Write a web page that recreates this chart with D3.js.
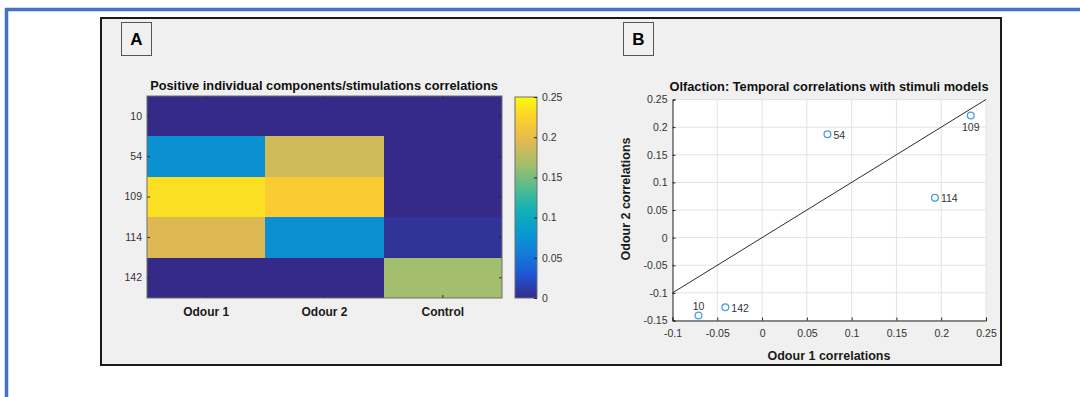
<!DOCTYPE html>
<html>
<head>
<meta charset="utf-8">
<script src="https://cdn.jsdelivr.net/npm/d3@7"></script>
<style>
  html, body { margin: 0; padding: 0; background: #ffffff; }
  svg { display: block; font-family: "Liberation Sans", Arial, Helvetica, sans-serif; }
</style>
</head>
<body>
<svg id="chart" width="1080" height="397"></svg>
<script>
// ---------------- DATA ----------------
const components = ["10", "54", "109", "114", "142"];
const stimuli = ["Odour 1", "Odour 2", "Control"];
// positive correlations (negative values shown as 0)
const odour1Heat = [0, 0.073, 0.233, 0.193, 0];
const odour2Heat = [0, 0.186, 0.220, 0.071, 0];
const controlHeat = [0, 0, 0, 0.006, 0.166];
const colorbarTicks = [0, 0.05, 0.1, 0.15, 0.2, 0.25];

// scatter: temporal correlations
const pointLabels = ["10", "54", "109", "114", "142"];
const odour1Corr = [-0.071, 0.073, 0.233, 0.193, -0.041];
const odour2Corr = [-0.141, 0.187, 0.221, 0.072, -0.126];
const xTicks = [-0.1, -0.05, 0, 0.05, 0.1, 0.15, 0.2, 0.25];
const yTicks = [-0.15, -0.1, -0.05, 0, 0.05, 0.1, 0.15, 0.2, 0.25];
const identityLine = [-0.1, 0.25];

// ---------------- STYLE ----------------
const parula = [
  [0.2081,0.1663,0.5292],[0.1253,0.3242,0.8303],[0.0723,0.4887,0.8467],
  [0.0265,0.6137,0.8135],[0.0843,0.6928,0.7062],[0.3482,0.7424,0.5473],
  [0.6473,0.7456,0.4188],[0.8824,0.7274,0.3217],[0.9880,0.8066,0.1794],
  [0.9763,0.9831,0.0538]
].map(c => d3.rgb(c[0]*255, c[1]*255, c[2]*255).formatHex());
const cMax = 0.25;
const color = d3.scaleLinear()
  .domain(parula.map((_, i) => i / (parula.length - 1) * cMax))
  .range(parula)
  .interpolate(d3.interpolateRgb)
  .clamp(true);

const svg = d3.select("#chart");
const TXT = "#333333";
const TICK = 10.5;
const fmt = d => String(+d.toFixed(2));

// outer blue page border (top & left)
svg.append("line").attr("x1", 5).attr("x2", 1080).attr("y1", 9.5).attr("y2", 9.5)
  .attr("stroke", "#4472C4").attr("stroke-width", 3.5);
svg.append("line").attr("x1", 6.5).attr("x2", 6.5).attr("y1", 8).attr("y2", 397)
  .attr("stroke", "#4472C4").attr("stroke-width", 3.5);

// figure panel
svg.append("rect").attr("x", 101).attr("y", 18).attr("width", 900).attr("height", 347)
  .attr("fill", "#F0F0F0").attr("stroke", "#1a1a1a").attr("stroke-width", 2);

// panel letters
[["A", 121.5, 22.5], ["B", 623.5, 22.5]].forEach(([t, x, y]) => {
  svg.append("rect").attr("x", x).attr("y", y).attr("width", 30).attr("height", 33)
    .attr("fill", "#F0F0F0").attr("stroke", "#555").attr("stroke-width", 1);
  svg.append("text").attr("x", x + 15).attr("y", y + 22.5).attr("text-anchor", "middle")
    .attr("font-size", 17).attr("font-weight", "bold").attr("fill", "#000").text(t);
});

// ---------------- HEATMAP ----------------
const hm = { x0: 147, x1: 502, y0: 96, y1: 298 };
const hx = d3.scaleBand().domain(stimuli).range([hm.x0, hm.x1]);
const hy = d3.scaleBand().domain(components).range([hm.y0, hm.y1]);
const heatCols = [odour1Heat, odour2Heat, controlHeat];
const cells = [];
stimuli.forEach((s, j) => components.forEach((c, i) => cells.push({ s, c, v: heatCols[j][i] })));

const gH = svg.append("g");
gH.selectAll("rect.cell").data(cells).join("rect").attr("class", "cell")
  .attr("x", d => hx(d.s)).attr("y", d => hy(d.c))
  .attr("width", hx.bandwidth()).attr("height", hy.bandwidth())
  .attr("shape-rendering", "crispEdges")
  .attr("fill", d => color(d.v));

// axes with inward ticks
const styleAxis = (g, size) => {
  g.select(".domain").remove();
  g.selectAll(".tick line").attr("stroke", "#262626");
  g.selectAll(".tick text").attr("fill", TXT).attr("font-size", size)
    .attr("font-family", "'Liberation Sans', Arial, sans-serif");
};
gH.append("g").attr("transform", `translate(${hm.x0},0)`)
  .call(d3.axisLeft(hy).tickSize(-3).tickPadding(5)).call(g => styleAxis(g, TICK));
gH.append("g").attr("transform", `translate(${hm.x1},0)`)
  .call(d3.axisRight(hy).tickSize(-3).tickFormat("")).call(g => styleAxis(g, TICK));
gH.append("g").attr("transform", `translate(0,${hm.y0})`)
  .call(d3.axisTop(hx).tickSize(-3).tickFormat("")).call(g => styleAxis(g, TICK));
const hxAxis = gH.append("g").attr("transform", `translate(0,${hm.y1})`)
  .call(d3.axisBottom(hx).tickSize(-3).tickPadding(9));
styleAxis(hxAxis, 12);
hxAxis.selectAll(".tick text").attr("font-weight", "bold").attr("fill", "#1a1a1a");

gH.append("rect").attr("x", hm.x0).attr("y", hm.y0).attr("width", hm.x1 - hm.x0).attr("height", hm.y1 - hm.y0)
  .attr("fill", "none").attr("stroke", "#6e6e6e").attr("stroke-width", 1);

svg.append("text").attr("x", (hm.x0 + hm.x1) / 2 - 0.5).attr("y", 89.5).attr("text-anchor", "middle")
  .attr("font-size", 12.8).attr("font-weight", "bold").attr("fill", "#111")
  .text("Positive individual components/stimulations correlations");

// colorbar
const cb = { x0: 515, x1: 537, y0: 97, y1: 298 };
const defs = svg.append("defs");
const grad = defs.append("linearGradient").attr("id", "parula").attr("x1", 0).attr("x2", 0).attr("y1", 1).attr("y2", 0);
grad.selectAll("stop").data(parula).join("stop")
  .attr("offset", (d, i) => i / (parula.length - 1)).attr("stop-color", d => d);
svg.append("rect").attr("x", cb.x0).attr("y", cb.y0).attr("width", cb.x1 - cb.x0).attr("height", cb.y1 - cb.y0)
  .attr("fill", "url(#parula)").attr("stroke", "#6e6e6e").attr("stroke-width", 1);
const cy = d3.scaleLinear().domain([0, cMax]).range([cb.y1, cb.y0]);
const cbAxis = svg.append("g").attr("transform", `translate(${cb.x1},0)`)
  .call(d3.axisRight(cy).tickValues(colorbarTicks).tickFormat(fmt).tickSize(-3).tickPadding(5));
styleAxis(cbAxis, TICK);

// ---------------- SCATTER ----------------
const sp = { x0: 672.5, x1: 986, y0: 99.5, y1: 320.5 };
const sx = d3.scaleLinear().domain([-0.1, 0.25]).range([sp.x0, sp.x1]);
const sy = d3.scaleLinear().domain([-0.15, 0.25]).range([sp.y1, sp.y0]);
const gS = svg.append("g");
gS.append("rect").attr("x", sp.x0).attr("y", sp.y0).attr("width", sp.x1 - sp.x0).attr("height", sp.y1 - sp.y0)
  .attr("fill", "#ffffff");
// grid
gS.selectAll("line.gx").data(xTicks).join("line").attr("class", "gx")
  .attr("x1", d => sx(d)).attr("x2", d => sx(d)).attr("y1", sp.y0).attr("y2", sp.y1)
  .attr("stroke", "#e3e3e3").attr("stroke-width", 1);
gS.selectAll("line.gy").data(yTicks).join("line").attr("class", "gy")
  .attr("y1", d => sy(d)).attr("y2", d => sy(d)).attr("x1", sp.x0).attr("x2", sp.x1)
  .attr("stroke", "#e3e3e3").attr("stroke-width", 1);

const sxAxis = gS.append("g").attr("transform", `translate(0,${sp.y1})`)
  .call(d3.axisBottom(sx).tickValues(xTicks).tickFormat(fmt).tickSize(-3).tickPadding(9));
sxAxis.select(".domain").attr("stroke", "#262626");
sxAxis.selectAll(".tick line").attr("stroke", "#262626");
sxAxis.selectAll(".tick text").attr("fill", TXT).attr("font-size", TICK);
const syAxis = gS.append("g").attr("transform", `translate(${sp.x0},0)`)
  .call(d3.axisLeft(sy).tickValues(yTicks).tickFormat(fmt).tickSize(-3).tickPadding(5));
syAxis.select(".domain").attr("stroke", "#262626");
syAxis.selectAll(".tick line").attr("stroke", "#262626");
syAxis.selectAll(".tick text").attr("fill", TXT).attr("font-size", TICK);

// identity line
gS.append("line")
  .attr("x1", sx(identityLine[0])).attr("y1", sy(identityLine[0]))
  .attr("x2", sx(identityLine[1])).attr("y2", sy(identityLine[1]))
  .attr("stroke", "#2b2b2b").attr("stroke-width", 1);

const pts = pointLabels.map((l, i) => ({ l, x: odour1Corr[i], y: odour2Corr[i] }));
gS.selectAll("circle.pt").data(pts).join("circle").attr("class", "pt")
  .attr("cx", d => sx(d.x)).attr("cy", d => sy(d.y)).attr("r", 3.4)
  .attr("fill", "none").attr("stroke", "#4a9fdc").attr("stroke-width", 1.3);

const labelPos = { "10": "above", "109": "below" };
gS.selectAll("text.pl").data(pts).join("text").attr("class", "pl")
  .attr("x", d => labelPos[d.l] ? sx(d.x) : sx(d.x) + 6)
  .attr("y", d => labelPos[d.l] === "above" ? sy(d.y) - 6 : labelPos[d.l] === "below" ? sy(d.y) + 15 : sy(d.y) + 4.5)
  .attr("text-anchor", d => labelPos[d.l] ? "middle" : "start")
  .attr("font-size", TICK).attr("fill", TXT).text(d => d.l);

svg.append("text").attr("x", 829).attr("y", 90.5).attr("text-anchor", "middle")
  .attr("font-size", 12.8).attr("font-weight", "bold").attr("fill", "#111")
  .text("Olfaction: Temporal correlations with stimuli models");
svg.append("text").attr("x", 829).attr("y", 360).attr("text-anchor", "middle")
  .attr("font-size", 12.5).attr("font-weight", "bold").attr("fill", "#1a1a1a")
  .text("Odour 1 correlations");
svg.append("text").attr("transform", "translate(630,199) rotate(-90)").attr("text-anchor", "middle")
  .attr("font-size", 12.5).attr("font-weight", "bold").attr("fill", "#1a1a1a")
  .text("Odour 2 correlations");
</script>
</body>
</html>
